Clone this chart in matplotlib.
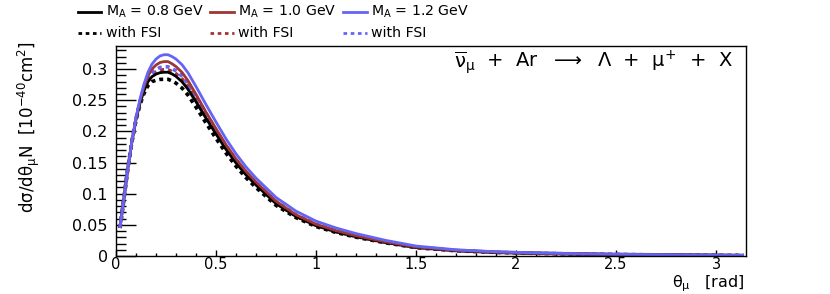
import matplotlib
matplotlib.use("Agg")
import matplotlib.pyplot as plt
from matplotlib.lines import Line2D
from matplotlib.ticker import MultipleLocator

plt.rcParams['font.family'] = ['DejaVu Sans']
plt.rcParams['mathtext.fontset'] = 'custom'
plt.rcParams['mathtext.rm'] = 'DejaVu Sans'
plt.rcParams['mathtext.it'] = 'DejaVu Sans'
plt.rcParams['mathtext.bf'] = 'DejaVu Sans:bold'

theta = [0.02, 0.04, 0.06, 0.08, 0.10, 0.12, 0.14, 0.16, 0.18, 0.20, 0.22, 0.24,
         0.26, 0.28, 0.30, 0.33, 0.36, 0.40, 0.45, 0.50, 0.55, 0.60, 0.65, 0.70,
         0.80, 0.90, 1.00, 1.10, 1.20, 1.35, 1.50, 1.70, 1.90, 2.10, 2.40, 2.70,
         3.00, 3.14]

ma08 = [.045, .093, .143, .1842, .2191, .2454, .2652, .2796, .2879, .2918, .2942, .2949,
        .2949, .2922, .2882, .2797, .2675, .2475, .2211, .1957, .1711, .1492, .1301, .1138,
        .0841, .0634, .0487, .0387, .0310, .0215, .0138, .0086, .0058, .0043, .0028, .0018,
        .0011, .0009]
ma08_fsi = [.045, .093, .143, .1839, .2179, .2428, .2608, .2734, .2798, .2821, .2834, .2836,
            .2836, .2810, .2774, .2695, .2581, .2388, .2134, .1888, .1651, .1440, .1256, .1098,
            .0813, .0616, .0473, .0378, .0302, .0210, .0134, .0084, .0057, .0042, .0027, .0018,
            .0011, .0008]
ma10 = [.045, .093, .143, .1847, .2209, .2494, .2718, .2890, .3001, .3065, .3105, .3120,
        .3120, .3085, .3040, .2947, .2814, .2595, .2309, .2043, .1786, .1558, .1359, .1188,
        .0879, .0662, .0510, .0407, .0326, .0226, .0145, .0091, .0062, .0045, .0029, .0019,
        .0012, .0009]
ma10_fsi = [.045, .093, .143, .1843, .2195, .2463, .2667, .2817, .2907, .2951, .2979, .2988,
            .2988, .2960, .2923, .2840, .2720, .2516, .2248, .1989, .1739, .1517, .1323, .1156,
            .0851, .0641, .0492, .0392, .0313, .0218, .0139, .0087, .0059, .0044, .0028, .0018,
            .0011, .0009]
ma12 = [.045, .093, .143, .185, .222, .252, .276, .295, .308, .316, .321, .323,
        .323, .320, .316, .307, .294, .272, .243, .215, .188, .164, .143, .125,
        .094, .072, .056, .045, .036, .025, .016, .0100, .0068, .0050, .0032, .0021,
        .0013, .0010]
ma12_fsi = [.045, .093, .143, .1844, .2200, .2475, .2685, .2844, .2941, .2993, .3025, .3036,
            .3036, .3008, .2970, .2886, .2764, .2557, .2284, .2021, .1767, .1542, .1344, .1175,
            .0874, .0662, .0510, .0403, .0322, .0224, .0143, .0090, .0061, .0045, .0029, .0019,
            .0012, .0009]

labels = ["M$_{A}$ = 0.8 GeV", "M$_{A}$ = 1.0 GeV", "M$_{A}$ = 1.2 GeV"]
fsi_label = "with FSI"
colors = ["#000000", "#a03535", "#6565f5"]
xtick_vals = [0, 0.5, 1, 1.5, 2, 2.5, 3]
xtick_labels = ["0", "0.5", "1", "1.5", "2", "2.5", "3"]
ytick_vals = [0, 0.05, 0.1, 0.15, 0.2, 0.25, 0.3]
ytick_labels = ["0", "0.05", "0.1", "0.15", "0.2", "0.25", "0.3"]

W, H = 830, 294
fig = plt.figure(figsize=(W / 100, H / 100), dpi=100)
ax = fig.add_axes([116 / W, 1 - 256 / H, (746 - 116) / W, (256 - 46) / H])

dot = (0, (1.1, 1.1))
series = [(ma08, ma08_fsi), (ma10, ma10_fsi), (ma12, ma12_fsi)]
for (s, f), c in zip(series, colors):
    ax.plot(theta, f, color=c, lw=2.6, linestyle=dot)
for (s, f), c in zip(series, colors):
    ax.plot(theta, s, color=c, lw=2.0, solid_capstyle='butt')

ax.set_xlim(0, 3.15)
ax.set_ylim(0, 0.337)
ax.xaxis.set_minor_locator(MultipleLocator(0.1))
ax.yaxis.set_minor_locator(MultipleLocator(0.01))
ax.set_xticks(xtick_vals)
ax.set_xticklabels(xtick_labels)
ax.set_yticks(ytick_vals)
ax.set_yticklabels(ytick_labels)
ax.tick_params(axis='x', which='major', direction='in', length=4.5, width=1, labelsize=10.5, pad=1)
ax.tick_params(axis='x', which='minor', direction='in', length=2.3, width=1)
ax.tick_params(axis='y', which='major', direction='in', length=14.5, width=1, labelsize=11.5, pad=6)
ax.tick_params(axis='y', which='minor', direction='in', length=7.5, width=1)
for sp in ax.spines.values():
    sp.set_linewidth(1)
    sp.set_color("#000000")

# axis titles
fig.text(744 / W, 0.0, r"$\theta_{\mu}$   [rad]", ha='right', va='bottom', fontsize=11.5)
fig.text(29 / W, 1 - 127 / H, r"d$\sigma$/d$\theta_{\mu}$N  [10$^{-40}$cm$^{2}$]",
         rotation=90, ha='center', va='center', fontsize=12)

# reaction label
fig.text(733 / W, 1 - 62 / H,
         r"$\overline{\nu}_{\mu}$  +  Ar  $\longrightarrow$  $\Lambda$  +  $\mu^{+}$  +  X",
         ha='right', va='center', fontsize=14)

# legend drawn at top
cols_x = [(78, 101, 106), (210, 234, 238), (343, 367, 371)]
rows_y = [12, 33]
for (x0, x1, xt), c, lab in zip(cols_x, colors, labels):
    fig.add_artist(Line2D([x0 / W, x1 / W], [1 - rows_y[0] / H] * 2, color=c, lw=2.0,
                          transform=fig.transFigure))
    fig.text(xt / W, 1 - rows_y[0] / H, lab, ha='left', va='center', fontsize=10.2)
    fig.add_artist(Line2D([x0 / W, x1 / W], [1 - rows_y[1] / H] * 2, color=c, lw=2.0,
                          linestyle=(0, (1.3, 1.3)), transform=fig.transFigure))
    fig.text(xt / W, 1 - rows_y[1] / H, fsi_label, ha='left', va='center', fontsize=10.2)

fig.savefig("out.png", dpi=100)
